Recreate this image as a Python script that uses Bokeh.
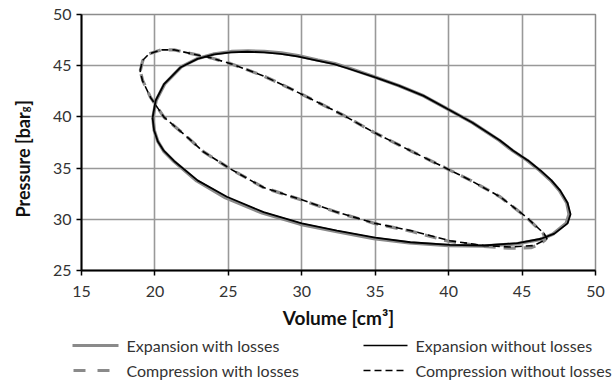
from math import pi
from bokeh.plotting import figure
from bokeh.layouts import row, column
from bokeh.models import Range1d, FixedTicker
from bokeh.core.properties import value
from bokeh.embed import file_html
from bokeh.resources import INLINE

# Expansion (solid) loops: volume [cm3], pressure [barg]
exp_nl_v = [19.84, 20.05, 20.62, 21.76, 22.9, 24.03, 25.16, 26.3, 27.43, 28.56, 29.7, 31.05, 32.2, 33.1, 34.9,
            36.6, 38.3, 39.9, 41.6, 43.5, 44.4, 45.4, 46.25, 47.0, 47.6, 48.1, 48.3, 48.1, 47.2, 46.3,
            44.7, 42.4, 40.1, 37.4, 35.0, 32.4, 30.0, 27.4, 24.9, 22.9, 21.3, 20.6, 20.2, 19.94, 19.84]
exp_nl_p = [39.9, 41.6, 43.2, 44.85, 45.67, 46.1, 46.3, 46.36, 46.3, 46.16, 45.9, 45.5, 45.15, 44.75, 43.9,
            43.05, 42.05, 40.8, 39.45, 37.7, 36.7, 35.75, 34.77, 33.8, 32.8, 31.6, 30.5, 29.6, 28.6, 28.1,
            27.67, 27.44, 27.5, 27.76, 28.2, 28.9, 29.6, 30.7, 32.2, 33.8, 35.7, 36.7, 37.6, 38.7, 39.9]

exp_wl_v = [19.86, 20.08, 20.65, 21.8, 22.95, 24.05, 25.2, 26.35, 27.45, 28.6, 29.75, 31.1, 32.25, 33.15, 34.95,
            36.6, 38.3, 39.9, 41.6, 43.45, 44.35, 45.35, 46.2, 46.95, 47.55, 48.05, 48.2, 48.0, 47.1, 46.2,
            44.6, 42.3, 40.0, 37.3, 34.9, 32.3, 29.9, 27.3, 24.8, 22.85, 21.3, 20.6, 20.2, 19.95, 19.86]
exp_wl_p = [39.9, 41.6, 43.2, 44.9, 45.72, 46.15, 46.38, 46.43, 46.38, 46.24, 45.97, 45.55, 45.2, 44.78, 43.9,
            43.05, 42.05, 40.8, 39.45, 37.7, 36.7, 35.75, 34.77, 33.8, 32.8, 31.6, 30.5, 29.6, 28.55, 28.02,
            27.6, 27.38, 27.44, 27.7, 28.12, 28.82, 29.52, 30.62, 32.1, 33.75, 35.65, 36.65, 37.6, 38.7, 39.9]

# Compression (dashed) loops
cmp_nl_v = [18.99, 19.15, 19.6, 20.4, 21.3, 22.4, 23.8, 25.16, 27.4, 29.26, 31.96, 32.86, 34.9, 37.4, 39.9,
            41.5, 43.5, 45.3, 46.5, 46.7, 46.25, 45.8, 44.2, 42.4, 40.1, 37.4, 35.0, 32.4, 30.0, 27.4,
            25.16, 23.3, 22.3, 20.62, 19.7, 19.15, 18.99]
cmp_nl_p = [44.5, 45.5, 46.16, 46.55, 46.55, 46.2, 45.77, 45.2, 44.0, 42.74, 40.8, 40.14, 38.5, 36.7, 34.93,
            33.8, 32.2, 30.2, 28.6, 28.1, 27.76, 27.44, 27.3, 27.44, 27.9, 28.9, 29.6, 30.7, 31.9, 33.1,
            34.9, 36.6, 37.9, 39.97, 41.9, 43.55, 44.5]

cmp_wl_v = [19.0, 19.17, 19.62, 20.42, 21.3, 22.4, 23.8, 25.16, 27.4, 29.26, 31.96, 32.86, 34.9, 37.4, 39.9,
            41.5, 43.5, 45.3, 46.45, 46.6, 46.1, 45.6, 44.1, 42.3, 40.0, 37.4, 35.0, 32.4, 30.0, 27.4,
            25.16, 23.3, 22.3, 20.62, 19.7, 19.17, 19.0]
cmp_wl_p = [44.5, 45.5, 46.16, 46.55, 46.55, 46.2, 45.77, 45.2, 44.0, 42.74, 40.8, 40.14, 38.5, 36.7, 34.93,
            33.8, 32.2, 30.2, 28.6, 28.0, 27.5, 27.22, 27.18, 27.36, 27.85, 28.85, 29.58, 30.68, 31.88, 33.1,
            34.9, 36.6, 37.9, 39.97, 41.9, 43.55, 44.5]

x_ticks = [15, 20, 25, 30, 35, 40, 45, 50]
y_ticks = [25, 30, 35, 40, 45, 50]

legend_labels = ["Expansion with losses", "Expansion without losses",
                 "Compression with losses", "Compression without losses"]

FONT = value("Lato")
GREY = "#8a8a8a"
TXT = "#333333"
TITLE = "#111111"

# ---------- narrow panel carrying the y-axis title (with subscript g) ----------
py = figure(output_backend="svg", toolbar_location=None,
            frame_width=44, frame_height=256,
            x_range=Range1d(0, 44), y_range=Range1d(25, 50),
            min_border_left=0, min_border_right=0, min_border_top=14, min_border_bottom=62)
py.axis.visible = False
py.grid.visible = False
py.outline_line_color = None
py.border_fill_color = "white"
ts = dict(angle=pi / 2, text_font=FONT, text_font_style="bold", text_color=TITLE,
          text_baseline="alphabetic")
py.text(x=[22], y=[40.45], text=["Pressure [bar"], text_align="right", text_font_size="18px", **ts)
py.text(x=[24], y=[40.45], text=["g"], text_align="left", text_font_size="11px", **ts)
py.text(x=[22], y=[41.1], text=["]"], text_align="left", text_font_size="18px", **ts)

# ---------- main chart ----------
p = figure(output_backend="svg", toolbar_location=None,
           frame_width=514, frame_height=256,
           x_range=Range1d(15, 50), y_range=Range1d(25, 50),
           min_border_left=37, min_border_top=14, min_border_right=18, min_border_bottom=62)

p.background_fill_color = "white"
p.border_fill_color = "white"
p.outline_line_color = "#8c8c8c"
p.outline_line_width = 1.5

for ax in (p.xaxis, p.yaxis):
    ax.axis_line_color = "black"
    ax.axis_line_width = 2
    ax.major_tick_line_color = "black"
    ax.major_tick_line_width = 1.5
    ax.major_tick_out = 5
    ax.major_tick_in = 0
    ax.minor_tick_line_color = None
    ax.major_label_text_font = "Lato"
    ax.major_label_text_font_size = "16px"
    ax.major_label_text_color = TXT

p.xaxis.ticker = FixedTicker(ticks=x_ticks)
p.yaxis.ticker = FixedTicker(ticks=y_ticks)
p.xaxis.major_label_standoff = 10
p.yaxis.major_label_standoff = 5

p.xaxis.axis_label = "Volume [cm³]"
p.xaxis.axis_label_text_font = "Lato"
p.xaxis.axis_label_text_font_style = "bold"
p.xaxis.axis_label_text_font_size = "19px"
p.xaxis.axis_label_text_color = TITLE
p.xaxis.axis_label_standoff = 6

p.grid.grid_line_color = "#999999"
p.grid.grid_line_width = 1.6
p.xgrid.ticker = FixedTicker(ticks=x_ticks)
p.ygrid.ticker = FixedTicker(ticks=y_ticks)

p.line(exp_wl_v, exp_wl_p, line_color=GREY, line_width=3.4)
p.line(cmp_wl_v, cmp_wl_p, line_color=GREY, line_width=3.2, line_dash="12 8")
p.line(exp_nl_v, exp_nl_p, line_color="black", line_width=1.8)
p.line(cmp_nl_v, cmp_nl_p, line_color="black", line_width=1.6, line_dash="7 4")

# ---------- legend strip (pixel coordinates, y grows downward) ----------
pl = figure(output_backend="svg", toolbar_location=None,
            frame_width=613, frame_height=50,
            x_range=Range1d(0, 613), y_range=Range1d(50, 0),
            min_border_left=0, min_border_right=0, min_border_top=0, min_border_bottom=0)
pl.axis.visible = False
pl.grid.visible = False
pl.outline_line_color = None
pl.border_fill_color = "white"

pl.line([72, 118], [13, 13], line_color=GREY, line_width=3.2)
pl.line([363, 407], [13, 13], line_color="black", line_width=1.6)
pl.line([73, 110], [38, 38], line_color=GREY, line_width=3.2, line_dash="12 12")
pl.line([363, 406], [38, 38], line_color="black", line_width=1.6, line_dash="7 4")
lt = dict(text_font=FONT, text_font_size="16px", text_color=TXT, text_baseline="middle", text_align="left")
pl.text(x=[126, 415], y=[13, 13], text=legend_labels[:2], **lt)
pl.text(x=[126, 415], y=[38, 38], text=legend_labels[2:], **lt)

layout = column(row(py, p), pl)
open("out.html", "w").write(file_html(layout, INLINE))
